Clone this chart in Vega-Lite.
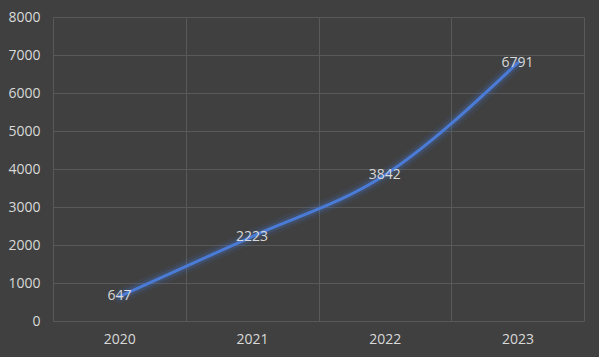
{
  "$schema": "https://vega.github.io/schema/vega-lite/v6.json",
  "width": 531,
  "height": 304,
  "autosize": {"type": "none"},
  "padding": {"left": 53, "top": 17, "right": 15, "bottom": 36},
  "background": "#404040",
  "config": {
    "view": {"stroke": null},
    "font": "Open Sans",
    "axis": {
      "labelColor": "#d9d9d9",
      "labelFontSize": 14,
      "labelFont": "Open Sans",
      "gridColor": "#595959",
      "gridWidth": 1,
      "domain": false,
      "ticks": false,
      "title": null
    }
  },
  "data": {
    "values": [
      {"year": "2020", "value": 647},
      {"year": "2021", "value": 2223},
      {"year": "2022", "value": 3842},
      {"year": "2023", "value": 6791}
    ]
  },
  "encoding": {
    "x": {
      "field": "year",
      "type": "ordinal",
      "scale": {"type": "band", "paddingInner": 0, "paddingOuter": 0},
      "axis": {"labelAngle": 0, "grid": true, "tickBand": "extent", "labelPadding": 11}
    },
    "y": {
      "field": "value",
      "type": "quantitative",
      "scale": {"domain": [0, 8000], "nice": false},
      "axis": {"values": [0, 1000, 2000, 3000, 4000, 5000, 6000, 7000, 8000], "format": "d", "labelPadding": 13, "grid": true}
    }
  },
  "layer": [
    {"mark": {"type": "line", "interpolate": "monotone", "color": "#4472c4", "strokeWidth": 14, "opacity": 0.1, "strokeCap": "round"}},
    {"mark": {"type": "line", "interpolate": "monotone", "color": "#4472c4", "strokeWidth": 8, "opacity": 0.22, "strokeCap": "round"}},
    {"mark": {"type": "line", "interpolate": "monotone", "color": "#4a7bd6", "strokeWidth": 3, "strokeCap": "round"}},
    {
      "mark": {"type": "text", "color": "#d9d9d9", "fontSize": 14, "font": "Open Sans"},
      "encoding": {"text": {"field": "value", "type": "quantitative", "format": "d"}}
    }
  ]
}
